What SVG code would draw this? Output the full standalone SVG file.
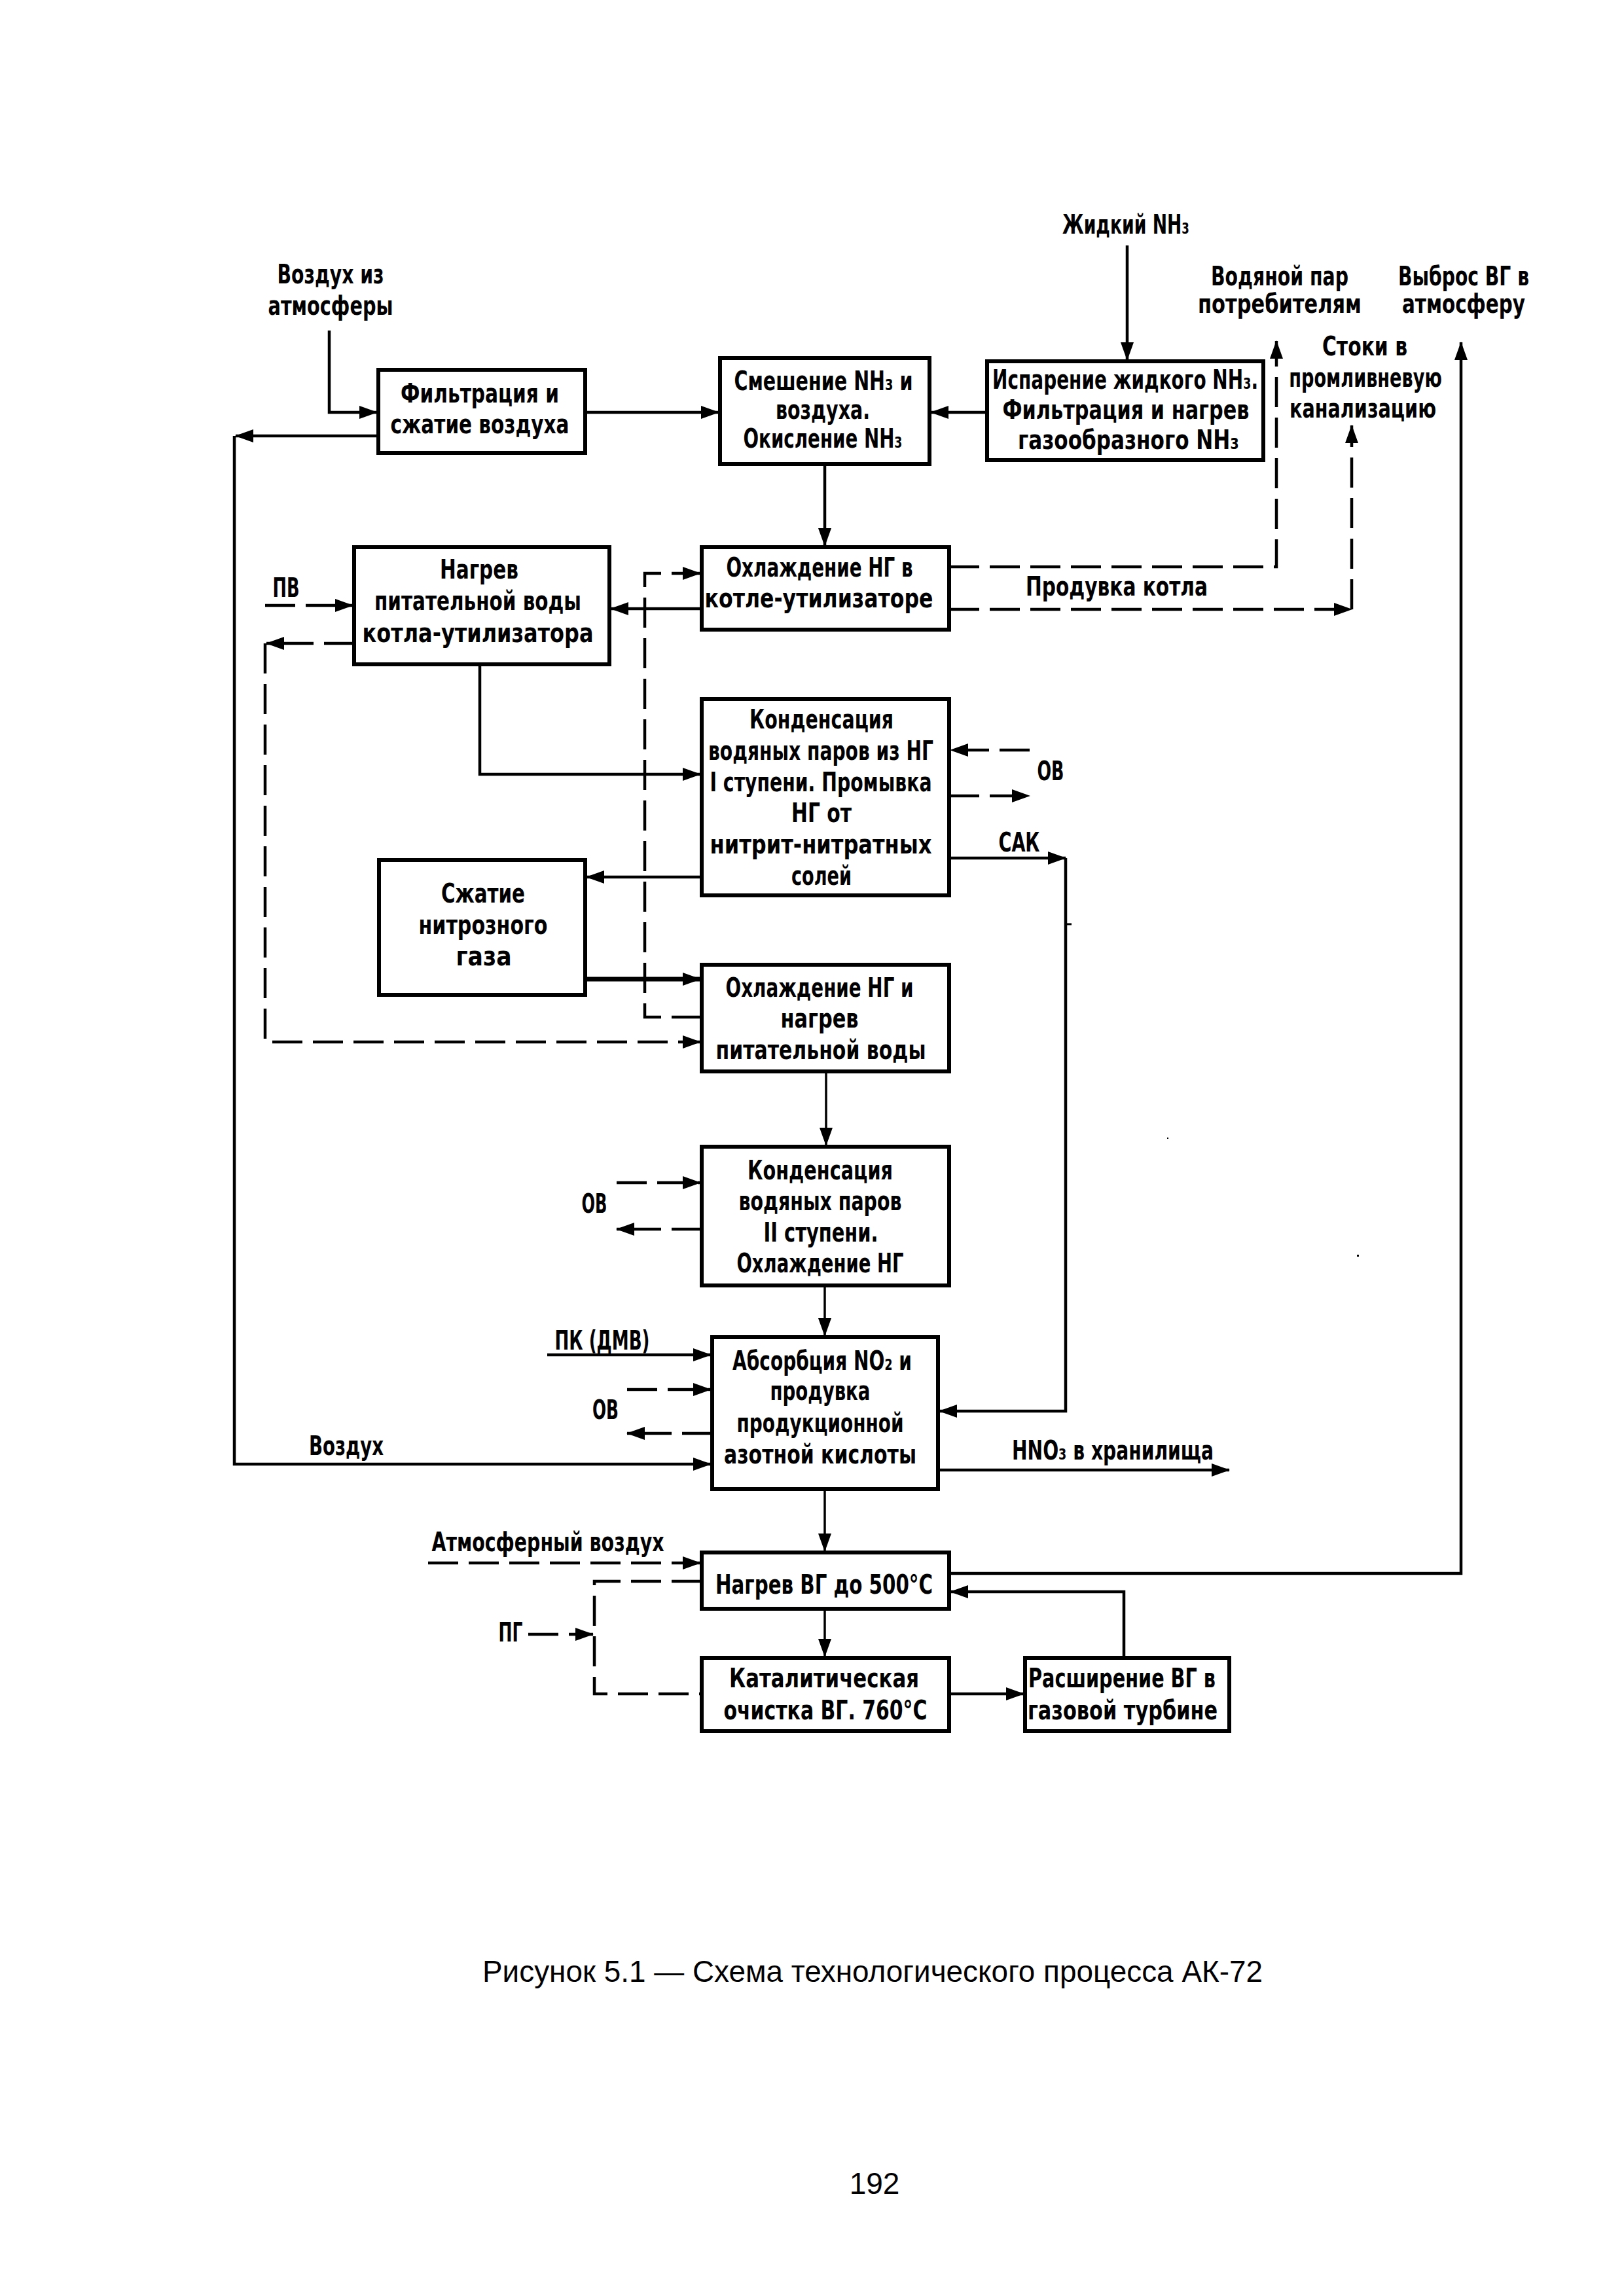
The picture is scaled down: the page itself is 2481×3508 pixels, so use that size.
<svg xmlns="http://www.w3.org/2000/svg" width="2481" height="3508" viewBox="0 0 2481 3508">
<style>
.bx{fill:#fff;stroke:#000;stroke-width:6}
.t{font-family:"DejaVu Sans Condensed","DejaVu Sans",sans-serif;font-size:40px;font-weight:bold;text-anchor:middle;fill:#000}
.ln{fill:none;stroke:#000;stroke-width:4.5}
.dl{fill:none;stroke:#000;stroke-width:4.5;stroke-dasharray:46 16}
.cap{font-family:"Liberation Sans",Arial,sans-serif;font-size:46px;text-anchor:middle;fill:#000}
</style>
<defs>
<marker id="ar" markerUnits="userSpaceOnUse" markerWidth="28" markerHeight="20" refX="27" refY="10" orient="auto">
<path d="M0,0 L28,10 L0,20 z" fill="#000"/>
</marker>
</defs>
<rect width="2481" height="3508" fill="#fff"/>

<g id="connectors">
<path class="ln" d="M503,505 V630 H576" marker-end="url(#ar)"/>
<path class="ln" d="M894,630 H1098" marker-end="url(#ar)"/>
<path class="ln" d="M578,666 H360" marker-end="url(#ar)"/>
<path class="ln" d="M358,666 V2237 H1086" marker-end="url(#ar)"/>
<path class="ln" d="M1508,630 H1422" marker-end="url(#ar)"/>
<path class="ln" d="M1722,375 V550" marker-end="url(#ar)"/>
<path class="ln" d="M1260,709 V834" marker-end="url(#ar)"/>
<path class="dl" d="M1450,866 H1950 V521" marker-end="url(#ar)"/>
<path class="dl" d="M1450,931 H2065" marker-end="url(#ar)"/>
<path class="dl" d="M2065,931 V650" marker-end="url(#ar)"/>
<path class="ln" d="M1072,930 H933" marker-end="url(#ar)"/>
<path class="dl" d="M1072,1554 H985 V876 H1070" marker-end="url(#ar)"/>
<path class="dl" d="M405,925 H539" marker-end="url(#ar)"/>
<path class="dl" d="M541,983 H407" marker-end="url(#ar)"/>
<path class="dl" d="M405,983 V1592 H1070" marker-end="url(#ar)"/>
<path class="ln" d="M733,1015 V1183 H1070" marker-end="url(#ar)"/>
<path class="dl" d="M1573,1146 H1452" marker-end="url(#ar)"/>
<path class="dl" d="M1450,1216 H1573" marker-end="url(#ar)"/>
<path class="ln" d="M1450,1311 H1628" marker-end="url(#ar)"/>
<path class="ln" d="M1628,1311 V2156 H1435" marker-end="url(#ar)"/>
<path class="ln" d="M1628,1412 H1637" style="stroke-width:3"/>
<path class="ln" d="M1072,1340 H896" marker-end="url(#ar)"/>
<path class="ln" d="M894,1496 H1070" marker-end="url(#ar)" style="stroke-width:7"/>
<path class="ln" d="M1262,1637 V1750" marker-end="url(#ar)" style="stroke-width:3.5"/>
<path class="dl" d="M942,1807 H1070" marker-end="url(#ar)"/>
<path class="dl" d="M1072,1878 H942" marker-end="url(#ar)"/>
<path class="ln" d="M1260,1964 V2041" marker-end="url(#ar)" style="stroke-width:3.5"/>
<path class="ln" d="M836,2070 H1086" marker-end="url(#ar)"/>
<path class="dl" d="M958,2123 H1086" marker-end="url(#ar)"/>
<path class="dl" d="M1088,2190 H958" marker-end="url(#ar)"/>
<path class="ln" d="M1433,2246 H1878" marker-end="url(#ar)"/>
<path class="ln" d="M1260,2275 V2370" marker-end="url(#ar)" style="stroke-width:3.5"/>
<path class="dl" d="M654,2388 H1070" marker-end="url(#ar)"/>
<path class="ln" d="M1450,2404 H2232 V523" marker-end="url(#ar)"/>
<path class="ln" d="M1717,2533 V2432 H1452" marker-end="url(#ar)"/>
<path class="ln" d="M1260,2458 V2531" marker-end="url(#ar)" style="stroke-width:3.5"/>
<path class="ln" d="M1450,2588 H1564" marker-end="url(#ar)"/>
<path class="dl" d="M1072,2416 H908 V2588 H1072"/>
<path class="dl" d="M807,2497 H906" marker-end="url(#ar)"/>
<rect x="1783" y="1738" width="2" height="2" fill="#000"/>
<rect x="2073" y="1917" width="3" height="3" fill="#000"/>
</g>

<g id="n1">
<rect class="bx" x="578" y="565" width="316" height="127"/>
<text class="t" x="733" y="615" textLength="242" lengthAdjust="spacingAndGlyphs">Фильтрация и</text>
<text class="t" x="733" y="662" textLength="273" lengthAdjust="spacingAndGlyphs">сжатие воздуха</text>
</g>
<g id="n2">
<rect class="bx" x="1100" y="547" width="320" height="162"/>
<text class="t" x="1258" y="596" textLength="273" lengthAdjust="spacingAndGlyphs">Смешение NH₃  и</text>
<text class="t" x="1257" y="640" textLength="144" lengthAdjust="spacingAndGlyphs">воздуха.</text>
<text class="t" x="1257" y="684" textLength="243" lengthAdjust="spacingAndGlyphs">Окисление NH₃</text>
</g>
<g id="n3">
<rect class="bx" x="1508" y="552" width="422" height="151"/>
<text class="t" transform="translate(1719,594) scale(0.7,1)" x="0" y="0" textLength="580" lengthAdjust="spacingAndGlyphs">Испарение жидкого NH₃.</text>
<text class="t" x="1720" y="640" textLength="377" lengthAdjust="spacingAndGlyphs">Фильтрация и нагрев</text>
<text class="t" x="1724" y="686" textLength="338" lengthAdjust="spacingAndGlyphs">газообразного NH₃</text>
</g>
<g id="n4">
<rect class="bx" x="1072" y="836" width="378" height="126"/>
<text class="t" x="1252" y="881" textLength="285" lengthAdjust="spacingAndGlyphs">Охлаждение НГ в</text>
<text class="t" x="1251" y="928" textLength="349" lengthAdjust="spacingAndGlyphs">котле-утилизаторе</text>
</g>
<g id="n5">
<rect class="bx" x="541" y="836" width="390" height="179"/>
<text class="t" x="732" y="884" textLength="120" lengthAdjust="spacingAndGlyphs">Нагрев</text>
<text class="t" x="730" y="932" textLength="316" lengthAdjust="spacingAndGlyphs">питательной воды</text>
<text class="t" x="730" y="981" textLength="353" lengthAdjust="spacingAndGlyphs">котла-утилизатора</text>
</g>
<g id="n6">
<rect class="bx" x="1072" y="1068" width="378" height="300"/>
<text class="t" x="1255" y="1113" textLength="220" lengthAdjust="spacingAndGlyphs">Конденсация</text>
<text class="t" x="1254" y="1161" textLength="344" lengthAdjust="spacingAndGlyphs">водяных паров из НГ</text>
<text class="t" x="1254" y="1209" textLength="339" lengthAdjust="spacingAndGlyphs">I ступени. Промывка</text>
<text class="t" x="1255" y="1256" textLength="92" lengthAdjust="spacingAndGlyphs">НГ от</text>
<text class="t" x="1254" y="1304" textLength="339" lengthAdjust="spacingAndGlyphs">нитрит-нитратных</text>
<text class="t" x="1255" y="1352" textLength="92" lengthAdjust="spacingAndGlyphs">солей</text>
</g>
<g id="n7">
<rect class="bx" x="579" y="1314" width="315" height="206"/>
<text class="t" x="738" y="1379" textLength="128" lengthAdjust="spacingAndGlyphs">Сжатие</text>
<text class="t" x="738" y="1427" textLength="197" lengthAdjust="spacingAndGlyphs">нитрозного</text>
<text class="t" x="739" y="1475" textLength="85" lengthAdjust="spacingAndGlyphs">газа</text>
</g>
<g id="n8">
<rect class="bx" x="1072" y="1474" width="378" height="163"/>
<text class="t" x="1252" y="1523" textLength="287" lengthAdjust="spacingAndGlyphs">Охлаждение НГ и</text>
<text class="t" x="1252" y="1570" textLength="119" lengthAdjust="spacingAndGlyphs">нагрев</text>
<text class="t" x="1254" y="1618" textLength="321" lengthAdjust="spacingAndGlyphs">питательной воды</text>
</g>
<g id="n9">
<rect class="bx" x="1072" y="1752" width="378" height="212"/>
<text class="t" x="1253" y="1802" textLength="222" lengthAdjust="spacingAndGlyphs">Конденсация</text>
<text class="t" x="1253" y="1849" textLength="249" lengthAdjust="spacingAndGlyphs">водяных паров</text>
<text class="t" x="1254" y="1897" textLength="175" lengthAdjust="spacingAndGlyphs">II ступени.</text>
<text class="t" x="1253" y="1944" textLength="255" lengthAdjust="spacingAndGlyphs">Охлаждение НГ</text>
</g>
<g id="n10">
<rect class="bx" x="1088" y="2043" width="345" height="232"/>
<text class="t" x="1256" y="2093" textLength="274" lengthAdjust="spacingAndGlyphs">Абсорбция NO₂ и</text>
<text class="t" x="1253" y="2139" textLength="153" lengthAdjust="spacingAndGlyphs">продувка</text>
<text class="t" x="1253" y="2188" textLength="255" lengthAdjust="spacingAndGlyphs">продукционной</text>
<text class="t" x="1253" y="2236" textLength="294" lengthAdjust="spacingAndGlyphs">азотной кислоты</text>
</g>
<g id="n11">
<rect class="bx" x="1072" y="2372" width="378" height="86"/>
<text class="t" x="1259" y="2435" textLength="332" lengthAdjust="spacingAndGlyphs">Нагрев ВГ до 500°С</text>
</g>
<g id="n12">
<rect class="bx" x="1072" y="2533" width="378" height="112"/>
<text class="t" x="1259" y="2578" textLength="290" lengthAdjust="spacingAndGlyphs">Каталитическая</text>
<text class="t" x="1261" y="2627" textLength="311" lengthAdjust="spacingAndGlyphs">очистка ВГ. 760°С</text>
</g>
<g id="n13">
<rect class="bx" x="1566" y="2533" width="312" height="112"/>
<text class="t" x="1714" y="2578" textLength="286" lengthAdjust="spacingAndGlyphs">Расширение ВГ в</text>
<text class="t" x="1715" y="2627" textLength="290" lengthAdjust="spacingAndGlyphs">газовой турбине</text>
</g>

<g id="labels">
<text class="t" x="1720" y="357" textLength="194" lengthAdjust="spacingAndGlyphs">Жидкий NH₃</text>
<text class="t" x="1955" y="436" textLength="210" lengthAdjust="spacingAndGlyphs">Водяной пар</text>
<text class="t" x="1955" y="478" textLength="250" lengthAdjust="spacingAndGlyphs">потребителям</text>
<text class="t" x="2236" y="436" textLength="200" lengthAdjust="spacingAndGlyphs">Выброс ВГ в</text>
<text class="t" x="2236" y="478" textLength="188" lengthAdjust="spacingAndGlyphs">атмосферу</text>
<text class="t" x="2085" y="543" textLength="130" lengthAdjust="spacingAndGlyphs">Стоки в</text>
<text class="t" transform="translate(2086,591) scale(0.8,1)" x="0" y="0" textLength="292" lengthAdjust="spacingAndGlyphs">промливневую</text>
<text class="t" x="2082" y="638" textLength="224" lengthAdjust="spacingAndGlyphs">канализацию</text>
<text class="t" x="505" y="433" textLength="163" lengthAdjust="spacingAndGlyphs">Воздух из</text>
<text class="t" x="505" y="481" textLength="191" lengthAdjust="spacingAndGlyphs">атмосферы</text>
<text class="t" x="1706" y="910" textLength="278" lengthAdjust="spacingAndGlyphs">Продувка котла</text>
<text class="t" x="437" y="912" textLength="41" lengthAdjust="spacingAndGlyphs">ПВ</text>
<text class="t" x="1605" y="1192" textLength="41" lengthAdjust="spacingAndGlyphs">ОВ</text>
<text class="t" x="1557" y="1301" textLength="63" lengthAdjust="spacingAndGlyphs">САК</text>
<text class="t" x="908" y="1853" textLength="39" lengthAdjust="spacingAndGlyphs">ОВ</text>
<text class="t" x="920" y="2062" textLength="145" lengthAdjust="spacingAndGlyphs">ПК (ДМВ)</text>
<text class="t" x="925" y="2168" textLength="40" lengthAdjust="spacingAndGlyphs">ОВ</text>
<text class="t" x="529" y="2223" textLength="114" lengthAdjust="spacingAndGlyphs">Воздух</text>
<text class="t" x="1700" y="2230" textLength="308" lengthAdjust="spacingAndGlyphs">HNO₃ в хранилища</text>
<text class="t" x="837" y="2370" textLength="355" lengthAdjust="spacingAndGlyphs">Атмосферный воздух</text>
<text class="t" x="780" y="2508" textLength="37" lengthAdjust="spacingAndGlyphs">ПГ</text>
<text class="cap" x="1333" y="3028" textLength="1192" lengthAdjust="spacingAndGlyphs">Рисунок 5.1 — Схема технологического процесса АК-72</text>
<text class="cap" x="1336" y="3352">192</text>
</g>
</svg>
